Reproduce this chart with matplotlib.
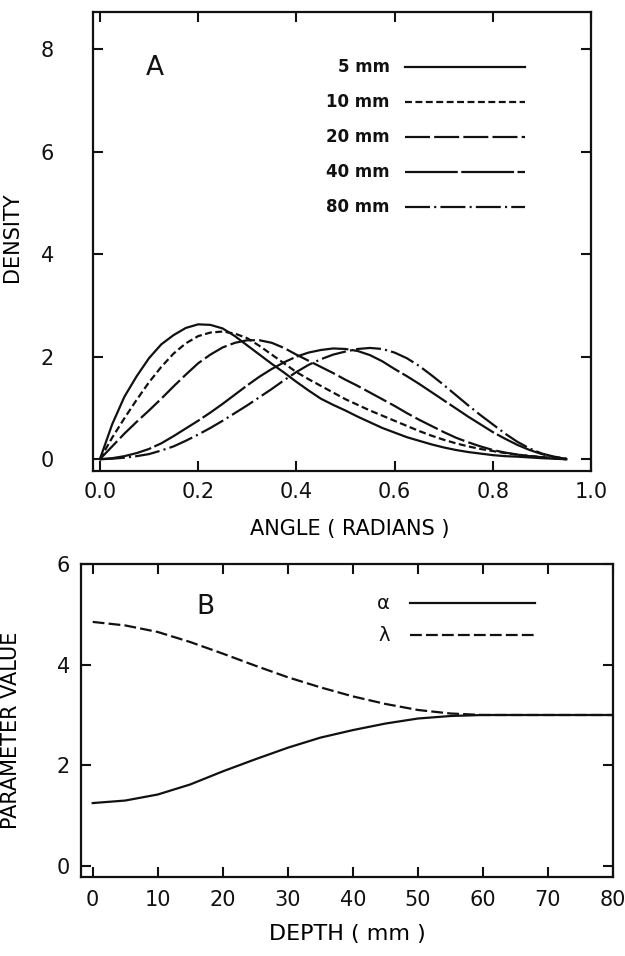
import numpy as np
import matplotlib
matplotlib.use("Agg")
import matplotlib.pyplot as plt

plt.rcParams['font.family'] = ['DejaVu Sans']
plt.rcParams['lines.scale_dashes'] = False

# panel A: angular density at several depths
angle = [0.000, 0.025, 0.050, 0.075, 0.100, 0.125, 0.150, 0.175, 0.200, 0.225,
         0.250, 0.275, 0.300, 0.325, 0.350, 0.375, 0.400, 0.425, 0.450, 0.475,
         0.500, 0.525, 0.550, 0.575, 0.600, 0.625, 0.650, 0.675, 0.700, 0.725,
         0.750, 0.775, 0.800, 0.825, 0.850, 0.875, 0.900, 0.925, 0.950]
dens_5mm = [0.00, 0.68, 1.22, 1.62, 1.97, 2.24, 2.42, 2.56, 2.63, 2.62,
            2.55, 2.40, 2.22, 2.04, 1.86, 1.69, 1.51, 1.34, 1.18, 1.06,
            0.95, 0.83, 0.72, 0.61, 0.52, 0.43, 0.36, 0.29, 0.23, 0.18,
            0.14, 0.11, 0.08, 0.06, 0.05, 0.035, 0.02, 0.01, 0.00]
dens_10mm = [0.00, 0.42, 0.80, 1.16, 1.50, 1.80, 2.06, 2.26, 2.40, 2.47,
             2.49, 2.45, 2.36, 2.21, 2.04, 1.87, 1.70, 1.56, 1.43, 1.30,
             1.17, 1.06, 0.95, 0.85, 0.75, 0.65, 0.55, 0.46, 0.38, 0.31,
             0.25, 0.20, 0.16, 0.12, 0.09, 0.065, 0.04, 0.02, 0.00]
dens_20mm = [0.00, 0.25, 0.50, 0.73, 0.95, 1.18, 1.42, 1.65, 1.87, 2.04,
             2.18, 2.27, 2.32, 2.32, 2.27, 2.17, 2.04, 1.92, 1.80, 1.68,
             1.55, 1.43, 1.30, 1.17, 1.04, 0.90, 0.77, 0.65, 0.53, 0.42,
             0.33, 0.25, 0.18, 0.13, 0.09, 0.06, 0.04, 0.02, 0.00]
dens_40mm = [0.00, 0.02, 0.06, 0.12, 0.20, 0.31, 0.45, 0.60, 0.75, 0.91,
             1.08, 1.26, 1.44, 1.61, 1.76, 1.89, 2.00, 2.08, 2.13, 2.16,
             2.15, 2.11, 2.03, 1.91, 1.76, 1.62, 1.47, 1.31, 1.15, 0.99,
             0.83, 0.68, 0.53, 0.40, 0.28, 0.18, 0.10, 0.04, 0.01]
dens_80mm = [0.00, 0.01, 0.03, 0.06, 0.10, 0.17, 0.25, 0.36, 0.48, 0.61,
             0.75, 0.90, 1.05, 1.21, 1.37, 1.54, 1.70, 1.84, 1.95, 2.04,
             2.10, 2.15, 2.17, 2.15, 2.08, 1.97, 1.82, 1.64, 1.45, 1.25,
             1.05, 0.86, 0.68, 0.50, 0.34, 0.21, 0.11, 0.05, 0.01]

depth_labels = ['5 mm', '10 mm', '20 mm', '40 mm', '80 mm']
dash_styles = ['-', (0, (5, 2.5)), (0, (18, 3)), (0, (38, 2.5)),
               (0, (18, 3, 1.5, 3))]

# panel B: fitted parameters vs depth
depth = [0, 5, 10, 15, 20, 25, 30, 35, 40, 45, 50, 55, 60, 65, 70, 75, 80]
alpha = [1.25, 1.30, 1.42, 1.62, 1.88, 2.12, 2.35, 2.55, 2.70, 2.83,
         2.93, 2.98, 3.00, 3.00, 3.00, 3.00, 3.00]
lam = [4.85, 4.78, 4.65, 4.45, 4.22, 3.98, 3.75, 3.55, 3.37, 3.22,
       3.10, 3.03, 3.00, 3.00, 3.00, 3.00, 3.00]

ink = '#111111'
lw = 1.6
tick_fs = 15
label_fs = 15

fig = plt.figure(figsize=(6.25, 9.56), dpi=100)
axA = fig.add_axes([0.1488, 0.5073, 0.7968, 0.4801])
axB = fig.add_axes([0.1296, 0.0826, 0.8512, 0.3274])

curves = [dens_5mm, dens_10mm, dens_20mm, dens_40mm, dens_80mm]
for dens, ls in zip(curves, dash_styles):
    axA.plot(angle, dens, color=ink, lw=lw, linestyle=ls)

axA.set_xlim(-0.014, 1.0)
axA.set_ylim(-0.23, 8.72)
axA.set_xticks([0.0, 0.2, 0.4, 0.6, 0.8, 1.0])
axA.set_xticklabels(['0.0', '0.2', '0.4', '0.6', '0.8', '1.0'])
axA.set_yticks([0, 2, 4, 6, 8])
axA.tick_params(axis='y', pad=28)
axA.tick_params(axis='x', pad=8)
axA.set_xlabel('ANGLE ( RADIANS )', fontsize=label_fs)
axA.set_ylabel('DENSITY', fontsize=label_fs)
axA.xaxis.set_label_coords(0.516, -0.105)
axA.yaxis.set_label_coords(-0.143, 0.51)
axA.text(0.124, 0.878, 'A', transform=axA.transAxes, fontsize=19,
         ha='center', va='center', color=ink)

# hand-made legend: right-aligned labels with line samples
rows = [0.880, 0.804, 0.728, 0.651, 0.575]
for lab, ls, yy in zip(depth_labels, dash_styles, rows):
    axA.text(0.596, yy, lab, transform=axA.transAxes, fontsize=12,
             ha='right', va='center', color=ink, fontweight='bold')
    axA.plot([0.627, 0.867], [yy, yy], transform=axA.transAxes,
             color=ink, lw=lw, linestyle=ls)

axB.plot(depth, alpha, color=ink, lw=lw, linestyle='-')
axB.plot(depth, lam, color=ink, lw=lw, linestyle=(0, (8.5, 3)))
axB.set_xlim(-1.8, 80)
axB.set_ylim(-0.22, 6)
axB.set_xticks(range(0, 81, 10))
axB.set_yticks([0, 2, 4, 6])
axB.tick_params(axis='y', pad=8)
axB.tick_params(axis='x', pad=9)
axB.set_xlabel('DEPTH ( mm )', fontsize=16)
axB.set_ylabel('PARAMETER VALUE', fontsize=label_fs)
axB.xaxis.set_label_coords(0.50, -0.15)
axB.yaxis.set_label_coords(-0.113, 0.47)
axB.text(0.233, 0.863, 'B', transform=axB.transAxes, fontsize=19,
         ha='center', va='center', color=ink)

for sym, ls, yy in [('α', '-', 0.875), ('λ', (0, (8.5, 3)), 0.773)]:
    axB.text(0.58, yy, sym, transform=axB.transAxes, fontsize=14,
             ha='right', va='center', color=ink)
    axB.plot([0.618, 0.853], [yy, yy], transform=axB.transAxes,
             color=ink, lw=lw, linestyle=ls)

for ax in (axA, axB):
    for sp in ax.spines.values():
        sp.set_linewidth(1.6)
        sp.set_color(ink)
    ax.tick_params(direction='in', length=7, width=1.5, top=True,
                   right=True, labelsize=tick_fs, colors=ink)

fig.savefig('out.png', dpi=100)
